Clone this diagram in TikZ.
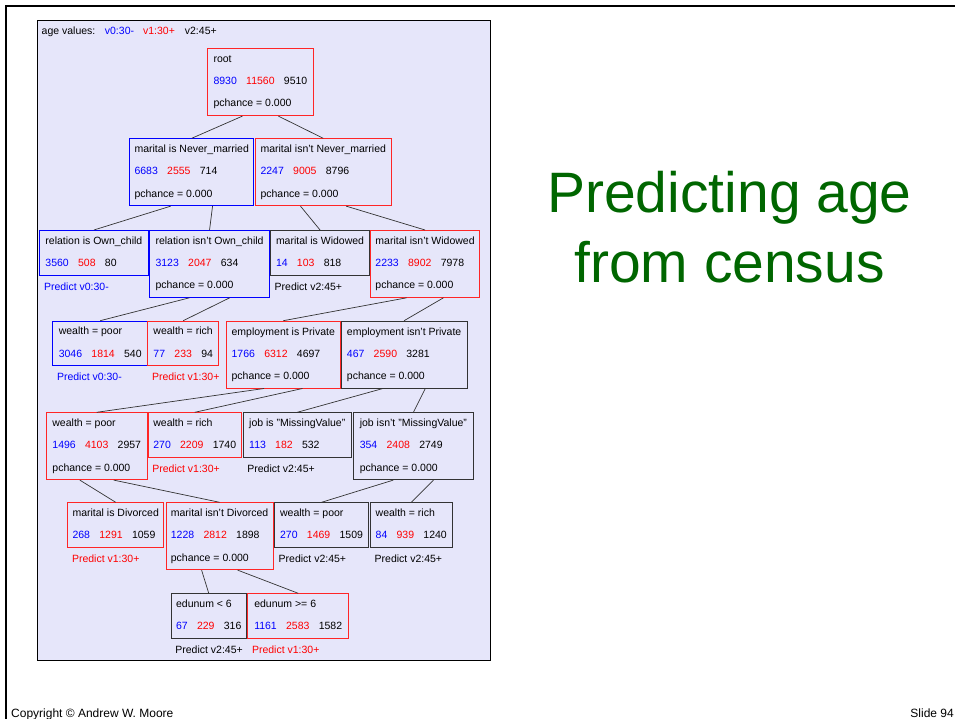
\documentclass[tikz,border=0pt]{standalone}
\usepackage{fontspec}
\setmainfont{Liberation Sans}
\usepackage{xcolor}
\usepackage{tikz}
\usetikzlibrary{positioning,calc}
\definecolor{panelfill}{HTML}{E6E6FA}
\definecolor{valblue}{HTML}{0000FF}
\definecolor{valred}{HTML}{FF0000}
\definecolor{titlegreen}{HTML}{006600}
\definecolor{edgegray}{HTML}{333333}
\newcommand{\agecounts}[3]{\textcolor{valblue}{#1}\hspace{9.3pt}\textcolor{valred}{#2}\hspace{9.3pt}#3\rule[-2.5pt]{0pt}{2.5pt}}

\begin{document}
\begin{tikzpicture}[
    x=1pt, y=-1pt,
    treebox/.style={rectangle, draw, fill=panelfill, anchor=north west, align=left,
                    inner xsep=4pt, inner ysep=0pt, line width=0.8pt,
                    font=\fontsize{10.5}{22.3}\selectfont},
    leafbox/.style={treebox, minimum height=44.5pt},
    splitbox/.style={treebox, minimum height=67pt},
    bluebox/.style={draw=valblue},
    redbox/.style={draw=valred!85},
    blackbox/.style={draw=black!80},
    predict/.style={anchor=west, inner xsep=4.5pt, inner ysep=0pt, font=\fontsize{10.5}{12}\selectfont},
    branch/.style={draw=edgegray, line width=0.7pt},
    title/.style={anchor=base, inner sep=0pt, text=titlegreen, font=\fontsize{57}{69}\selectfont},
    footer/.style={inner sep=0pt, font=\fontsize{12}{14}\selectfont},
]
\useasboundingbox (0,0) rectangle (955,719);

% ── Slide frame and tree panel ───────────────────────────────────────────
\draw[line width=2pt] (955,6) -- (6,6) -- (6,719);
\draw[fill=panelfill, line width=1pt] (37,20.5) rectangle (490.5,660);

\node[anchor=west, inner sep=0pt, font=\fontsize{10.5}{12}\selectfont] (legend) at (41.5,32)
    {age values:\hspace{9.5pt}\textcolor{valblue}{v0:30-}\hspace{9pt}\textcolor{valred}{v1:30+}\hspace{10pt}v2:45+};

% ── Levels 1-2 ───────────────────────────────────────────────────────────
\node[splitbox, redbox,  minimum width=106.6pt] (root) at (206.7,48.3)
    {root\\ \agecounts{8930}{11560}{9510}\\ pchance = 0.000};
\node[splitbox, bluebox, minimum width=124pt]   (nm)   at (129.3,138.3)
    {marital is Never\_married\\ \agecounts{6683}{2555}{714}\\ pchance = 0.000};
\node[splitbox, redbox,  minimum width=135.7pt] (nnm)  at (255,138.3)
    {marital isn't Never\_married\\ \agecounts{2247}{9005}{8796}\\ pchance = 0.000};

% ── Level 3 ──────────────────────────────────────────────────────────────
\node[leafbox,  bluebox,  minimum width=108.4pt] (own)  at (39.3,230)
    {relation is Own\_child\\ \agecounts{3560}{508}{80}};
\node[splitbox, bluebox,  minimum width=119.7pt] (nown) at (149.3,230)
    {relation isn't Own\_child\\ \agecounts{3123}{2047}{634}\\ pchance = 0.000};
\node[leafbox,  blackbox, minimum width=99.3pt]  (wid)  at (270,230)
    {marital is Widowed\\ \agecounts{14}{103}{818}};
\node[splitbox, redbox,   minimum width=109.3pt] (nwid) at (370,230)
    {marital isn't Widowed\\ \agecounts{2233}{8902}{7978}\\ pchance = 0.000};

% ── Level 4 ──────────────────────────────────────────────────────────────
\node[leafbox,  bluebox,  minimum width=95pt]    (poorA) at (52.3,320.7)
    {wealth = poor\\ \agecounts{3046}{1814}{540}};
\node[leafbox,  redbox,   minimum width=71pt]    (richA) at (147.3,320.7)
    {wealth = rich\\ \agecounts{77}{233}{94}};
\node[splitbox, redbox,   minimum width=114.3pt] (priv)  at (225.7,320.7)
    {employment is Private\\ \agecounts{1766}{6312}{4697}\\ pchance = 0.000};
\node[splitbox, blackbox, minimum width=126pt]   (npriv) at (340.7,320.7)
    {employment isn't Private\\ \agecounts{467}{2590}{3281}\\ pchance = 0.000};

% ── Level 5 ──────────────────────────────────────────────────────────────
\node[splitbox, redbox,   minimum width=100.7pt] (poorB) at (46,412.3)
    {wealth = poor\\ \agecounts{1496}{4103}{2957}\\ pchance = 0.000};
\node[leafbox,  redbox,   minimum width=93.3pt]  (richB) at (147.7,412.3)
    {wealth = rich\\ \agecounts{270}{2209}{1740}};
\node[leafbox,  blackbox, minimum width=108.3pt] (mv)    at (242.7,412.3)
    {job is "MissingValue"\\ \agecounts{113}{182}{532}};
\node[splitbox, blackbox, minimum width=119.4pt] (nmv)   at (353.3,412.3)
    {job isn't "MissingValue"\\ \agecounts{354}{2408}{2749}\\ pchance = 0.000};

% ── Level 6 ──────────────────────────────────────────────────────────────
\node[leafbox,  redbox,   minimum width=96pt]    (div)   at (67.3,502.3)
    {marital is Divorced\\ \agecounts{268}{1291}{1059}};
\node[splitbox, redbox,   minimum width=107pt]   (ndiv)  at (165.7,502.3)
    {marital isn't Divorced\\ \agecounts{1228}{2812}{1898}\\ pchance = 0.000};
\node[leafbox,  blackbox, minimum width=94.3pt]  (poorC) at (274,502.3)
    {wealth = poor\\ \agecounts{270}{1469}{1509}};
\node[leafbox,  blackbox, minimum width=81.7pt]  (richC) at (370,502.3)
    {wealth = rich\\ \agecounts{84}{939}{1240}};

% ── Level 7 ──────────────────────────────────────────────────────────────
\node[leafbox,  blackbox, minimum width=75.3pt]  (eduL)  at (170.7,593.3)
    {edunum < 6\\ \agecounts{67}{229}{316}};
\node[leafbox,  redbox,   minimum width=101pt]   (eduR)  at (247.3,593.3)
    {edunum >= 6\\ \agecounts{1161}{2583}{1582}};

% ── Leaf predictions ─────────────────────────────────────────────────────
\node[predict, text=valblue] (ownpred)   at ([yshift=-11pt]own.south west)   {Predict v0:30-};
\node[predict]               (widpred)   at ([yshift=-11pt]wid.south west)   {Predict v2:45+};
\node[predict, text=valblue] (poorApred) at ([yshift=-11pt]poorA.south west) {Predict v0:30-};
\node[predict, text=valred]  (richApred) at ([yshift=-11pt]richA.south west) {Predict v1:30+};
\node[predict, text=valred]  (richBpred) at ([yshift=-11pt]richB.south west) {Predict v1:30+};
\node[predict]               (mvpred)    at ([yshift=-11pt]mv.south west)    {Predict v2:45+};
\node[predict, text=valred]  (divpred)   at ([yshift=-11pt]div.south west)   {Predict v1:30+};
\node[predict]               (poorCpred) at ([yshift=-11pt]poorC.south west) {Predict v2:45+};
\node[predict]               (richCpred) at ([yshift=-11pt]richC.south west) {Predict v2:45+};
\node[predict]               (eduLpred)  at ([yshift=-11pt]eduL.south west)  {Predict v2:45+};
\node[predict, text=valred]  (eduRpred)  at ([yshift=-11pt]eduR.south west)  {Predict v1:30+};

% ── Branches: parent bottom at 1/3 and 2/3 to child top ──────────────────
\foreach \p/\a/\b in {root/nm/nnm, nm/own/nown, nnm/wid/nwid, nown/poorA/richA,
                      nwid/priv/npriv, priv/poorB/richB, npriv/mv/nmv,
                      poorB/div/ndiv, nmv/poorC/richC, ndiv/eduL/eduR} {
    \draw[branch] ($(\p.south west)!0.333!(\p.south east)$) -- (\a.north);
    \draw[branch] ($(\p.south west)!0.667!(\p.south east)$) -- (\b.north);
}

% ── Title and footer ─────────────────────────────────────────────────────
\node[title] (title1) at (729.5,213) {Predicting age};
\node[title] (title2) at (729.5,282) {from census};
\node[footer, anchor=base west] (copyright) at (11,717)  {Copyright \textcopyright{} Andrew W. Moore};
\node[footer, anchor=base east] (slideno)   at (954,717) {Slide 94};

\end{tikzpicture}
\end{document}
